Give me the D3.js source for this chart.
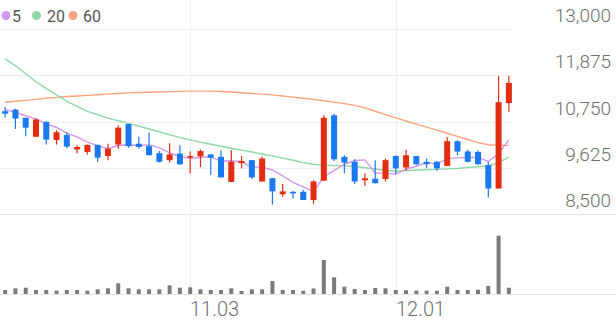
<!DOCTYPE html>
<html><head><meta charset="utf-8">
<script src="https://cdn.jsdelivr.net/npm/d3@7"></script>
<style>
html,body{margin:0;padding:0;background:#fff;}
svg{display:block;font-family:Roboto,"Noto Sans",sans-serif;}
</style></head><body>
<svg id="c" width="616" height="321"></svg>
<script>
const dates = ["10.01","10.02","10.10","10.13","10.14","10.15","10.16","10.17","10.20","10.21","10.22","10.23","10.24","10.27","10.28","10.29","10.30","10.31",
"11.03","11.04","11.05","11.06","11.07","11.10","11.11","11.12","11.13","11.14","11.17","11.18","11.19","11.20","11.21","11.24","11.25","11.26","11.27","11.28",
"12.01","12.02","12.03","12.04","12.05","12.08","12.09","12.10","12.11","12.12","12.15","12.16"];
const open  = [11000,11040,10840,10380,10740,10300,10420,10070,10010,10180,9910,10190,10690,10210,10150,9980,9810,9970,9870,9900,9950,9890,9280,9740,9810,9290,9370,8980,9040,9040,8840,9310,10900,9890,9770,9320,9360,9350,9910,9630,9910,9770,9770,9670,10270,10020,10010,9690,9120,11200];
const high  = [11100,11060,10840,10820,10760,10540,10480,10170,10190,10190,10210,10650,10690,10380,10480,10030,10220,10170,10020,10070,9950,10050,10050,9910,9810,9900,9370,9230,9060,9090,9320,10900,10940,9930,9830,9490,9810,9850,9930,10060,9910,9850,9790,10370,10290,10060,10050,9770,11860,11860];
const low   = [10850,10570,10390,10380,10190,10190,10100,9970,9950,9770,9810,10090,10110,10090,9930,9750,9750,9690,9490,9640,9450,9390,9270,9610,9350,9290,8730,8920,8880,8840,8740,9310,9790,9490,9230,9180,9240,9290,9470,9560,9690,9610,9550,9670,9930,9750,9690,8900,9120,10990];
const close = [10940,10820,10600,10800,10310,10490,10140,10130,10180,9870,10090,10600,10150,10130,9930,9770,9950,9710,9910,10030,9870,9390,9770,9790,9390,9850,9050,9050,9000,8840,9290,10840,9830,9750,9290,9370,9250,9810,9610,9930,9710,9710,9610,10270,10020,9770,9710,9120,11220,11690];
const volume = [40,57,63,40,40,33,40,40,33,47,57,107,57,47,47,47,87,63,67,47,40,40,57,30,47,47,130,40,40,32,55,340,167,73,50,40,60,57,40,37,33,33,33,73,40,40,43,80,583,63];
const ma5  = [11040,10975,10890,10815,10694,10604,10468,10374,10250,10162,10082,10174,10178,10168,10180,10116,9986,9898,9854,9874,9894,9782,9794,9770,9642,9638,9570,9426,9268,9158,9046,9404,9560,9710,9800,9816,9498,9494,9466,9594,9662,9754,9714,9846,9864,9876,9876,9778,9968,10302];
const ma20 = [12274,12105,11911,11718,11548,11396,11241,11115,10994,10914,10832,10767,10706,10641,10568,10498,10428,10358,10302,10249,10198,10148,10099,10053,10007,9961,9915,9860,9806,9751,9710,9685,9678,9671,9656,9625,9594,9565,9540,9557,9569,9577,9586,9598,9610,9632,9649,9668,9751,9886];
const ma60 = [11217,11241,11265,11289,11314,11338,11357,11372,11386,11401,11415,11432,11447,11454,11461,11469,11476,11483,11488,11490,11488,11481,11466,11449,11432,11415,11398,11369,11343,11316,11287,11256,11222,11185,11142,11081,10999,10917,10837,10762,10687,10612,10539,10464,10389,10312,10235,10184,10169,10169];
const priceTicks = [13000,11875,10750,9625,8500];
const xTickLabels = ["11.03","12.01"];
const legendNames = ["5","20","60"];

const UP="#e42d10", DOWN="#1b79ef";
const maColors = ["#d597ee","#8fd8a2","#ffa37e"];

const svg = d3.select("#c");
const x = d3.scaleBand().domain(dates).range([0,514]);
const cx = d => x(d) + x.bandwidth()/2;
const y = d3.scaleLinear().domain([8500,13000]).range([214,29]);
const yv = d3.scaleLinear().domain([0, d3.max(volume)]).range([294,235.7]);

// horizontal grid
svg.append("g").selectAll("line").data(priceTicks.slice(0,4)).join("line")
  .attr("x1",0).attr("x2",512).attr("y1",d=>Math.round(y(d))+0.5).attr("y2",d=>Math.round(y(d))+0.5)
  .attr("stroke","#eeeeee").attr("stroke-width",1);
// bottom separators
svg.append("line").attr("x1",0).attr("x2",616).attr("y1",Math.round(y(8500))+0.5).attr("y2",Math.round(y(8500))+0.5)
  .attr("stroke","#e6e6e6");
svg.append("line").attr("x1",0).attr("x2",616).attr("y1",294.5).attr("y2",294.5).attr("stroke","#e6e6e6");
// vertical grid
svg.append("g").selectAll("line").data(xTickLabels).join("line")
  .attr("x1",d=>Math.round(cx(d))+0.5).attr("x2",d=>Math.round(cx(d))+0.5).attr("y1",0).attr("y2",294)
  .attr("stroke","#eeeeee");

// y labels
svg.append("g").selectAll("text").data(priceTicks).join("text")
  .attr("x",611).attr("y",d=>y(d)-7).attr("text-anchor","end")
  .attr("font-size",19).attr("font-weight",300).attr("fill","#6f6f6f")
  .text(d=>d3.format(",")(d));
// x labels
svg.append("g").selectAll("text").data(xTickLabels).join("text")
  .attr("x",d=>Math.round(cx(d))).attr("y",316).attr("text-anchor","start")
  .attr("font-size",20).attr("font-weight",300).attr("fill","#6f6f6f").text(d=>d);

// volume
svg.append("g").selectAll("rect").data(dates).join("rect")
  .attr("x",d=>cx(d)-2).attr("width",4)
  .attr("y",(d,i)=>yv(volume[i])).attr("height",(d,i)=>294-yv(volume[i]))
  .attr("fill","#7b7b7b");

// MA lines
const line = arr => d3.line().x((d,i)=>cx(dates[i])).y(d=>y(d))(arr);
[ma60, ma20, ma5].forEach((arr,k)=>{
  svg.append("path").attr("d",line(arr)).attr("fill","none")
    .attr("stroke",[maColors[2],maColors[1],maColors[0]][k]).attr("stroke-width",1.4);
});

// candles
const g = svg.append("g");
dates.forEach((d,i)=>{
  const col = close[i] >= open[i] ? UP : DOWN;
  const xc = cx(d);
  g.append("line").attr("x1",xc).attr("x2",xc).attr("y1",y(high[i])).attr("y2",y(low[i]))
    .attr("stroke",col).attr("stroke-width",1.2);
  const top = y(Math.max(open[i],close[i])), bot = y(Math.min(open[i],close[i]));
  g.append("rect").attr("x",xc-3).attr("width",6).attr("y",top).attr("height",Math.max(1.5,bot-top))
    .attr("fill",col);
});

// legend
const lx = [6,36.5,73], tx=[12,47,83];
legendNames.forEach((n,k)=>{
  svg.append("circle").attr("cx",lx[k]).attr("cy",15.5).attr("r",4.5).attr("fill",maColors[k]);
  svg.append("text").attr("x",tx[k]).attr("y",21.5).attr("font-size",16).attr("fill","#555").text(n);
});
</script>
</body></html>
